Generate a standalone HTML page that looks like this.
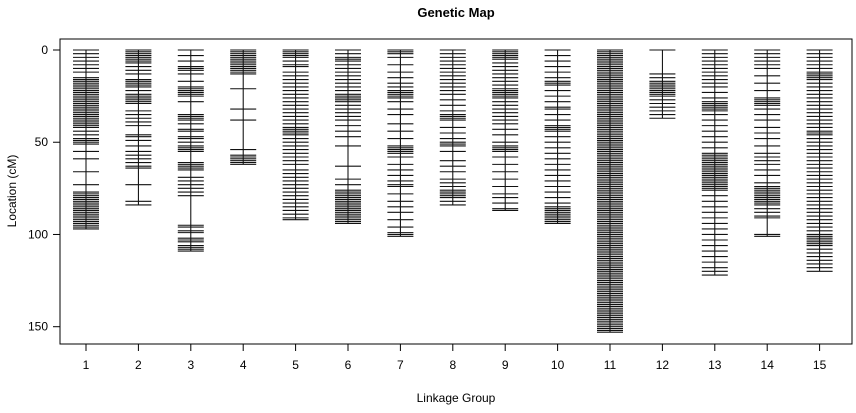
<!DOCTYPE html>
<html><head><meta charset="utf-8"><style>
body{margin:0;background:#fff}
svg text{font-family:"Liberation Sans",sans-serif;font-size:12px;fill:#000}
</style></head><body>
<svg id="c" width="856" height="408"></svg>
<script>
const groups=[1,2,3,4,5,6,7,8,9,10,11,12,13,14,15];
const yTicks=[0,50,100,150];
const m1=[0,2,4,6,8,10,12,15,16,17,18,19,20,21,22,23,24,25,26,27,28,29,30,31,32,33,34,35,36,37,38,39,40,41,42,44,46,48,49,50,51,55,59,66,73,77,78,79,80,81,82,83,84,85,86,87,88,89,90,91,92,93,94,95,96,97];
const m2=[0,1,2,3,4,5,6,7,9,11,13,16,17,18,19,20,22,24,25,26,27,28,29,33,35,37,39,41,46,47,49,52,55,57,59,61,63,64,73,82,84];
const m3=[0,3,6,9,10,11,13,17,20,21,22,23,24,25,28,35,36,37,38,40,43,44,47,48,50,52,53,54,55,61,62,63,64,65,69,71,73,75,77,79,95,96,98,99,102,103,104,106,107,108,109];
const m4=[0,1,2,3,4,5,6,7,8,9,10,11,12,13,21,32,38,54,57,58,59,60,61,62];
const m5=[0,1,2,3,4,6,8,9,12,14,16,18,20,22,24,26,28,30,32,34,36,38,40,42,43,44,45,46,48,50,52,54,56,58,60,62,65,67,69,71,73,75,77,79,81,83,85,87,89,91,92];
const m6=[0,2,4,5,6,8,10,12,14,16,18,20,22,24,25,26,27,28,30,32,34,36,38,41,44,47,52,63,70,73,76,77,78,79,80,81,82,83,84,85,86,87,88,89,90,91,92,93,94];
const m7=[0,1,2,4,8,12,15,18,20,22,23,24,25,26,28,32,35,40,44,48,52,53,54,55,56,58,62,65,68,71,73,74,78,82,85,88,92,96,99,100,101];
const m8=[0,2,4,6,8,10,12,14,16,18,20,22,24,27,30,33,35,36,37,38,42,45,48,50,51,52,55,60,63,66,70,72,74,76,77,78,79,80,82,84];
const m9=[0,1,2,3,4,5,7,9,11,13,15,17,19,21,22,23,24,25,26,28,30,32,34,36,38,40,43,46,50,52,53,54,55,58,62,66,70,74,78,80,83,86,87];
const m10=[0,3,6,9,12,15,17,18,19,22,25,28,31,32,35,38,41,42,43,44,47,50,53,56,59,62,65,68,71,74,77,80,83,85,86,87,88,89,90,91,92,93,94];
const m11=[0,1,2,3,4,5,6,7,8,9,10,11,12,13,14,15,16,17,18,19,20,21,22,23,24,25,26,27,28,29,30,31,32,33,34,35,36,37,38,39,40,41,42,43,44,45,46,47,48,49,50,51,52,53,54,55,56,57,58,59,60,61,62,63,64,65,66,67,68,69,70,71,72,73,74,75,76,77,78,79,80,81,82,83,84,85,86,87,88,89,90,91,92,93,94,95,96,97,98,99,100,101,102,103,104,105,106,107,108,109,110,111,112,113,114,115,116,117,118,119,120,121,122,123,124,125,126,127,128,129,130,131,132,133,134,135,136,137,138,139,140,141,142,143,144,145,146,147,148,149,150,151,152,153];
const m12=[0,13,15,17,18,19,20,21,22,23,24,25,27,29,31,33,35,37];
const m13=[0,2,4,6,8,10,12,14,16,18,20,23,26,28,29,30,31,32,33,35,38,41,44,47,50,53,56,57,58,59,60,61,62,63,64,65,66,67,68,69,70,71,72,73,74,75,76,79,82,85,88,91,94,97,100,103,106,109,112,115,118,120,122];
const m14=[0,2,4,6,8,10,14,18,22,26,27,28,29,30,32,35,38,42,45,48,52,56,58,60,62,65,68,72,74,75,76,77,78,79,80,81,82,83,84,86,88,90,91,100,101];
const m15=[0,2,4,6,8,10,12,13,14,15,16,18,20,22,24,26,28,30,32,34,36,38,40,42,44,45,46,48,50,52,54,56,58,60,62,64,66,68,70,72,74,76,78,80,82,84,86,88,90,92,94,96,98,100,101,102,103,104,105,106,108,110,112,114,116,118,120];
const markers=[m1,m2,m3,m4,m5,m6,m7,m8,m9,m10,m11,m12,m13,m14,m15];

const NS="http://www.w3.org/2000/svg",svg=document.getElementById('c');
const L=60,R=852,T=39,B=344;
const yS=v=>50+v*(326.7-50)/150;
const xS=g=>86+(g-1)*52.4;
function el(t,a,txt){const e=document.createElementNS(NS,t);for(const k in a)e.setAttribute(k,a[k]);if(txt!=null)e.textContent=txt;svg.appendChild(e);return e;}
let e;
e=el('rect',{x:L,y:T,width:R-L,height:B-T,fill:'none',stroke:'#000','stroke-width':1});


e=el('text',{x:456,y:17,'text-anchor':'middle','font-weight':'bold','style':'font-size:13px'},'Genetic Map');


e=el('text',{x:456,y:402,'text-anchor':'middle'},'Linkage Group');


e=el('text',{x:16,y:191,'text-anchor':'middle',transform:'rotate(-90 16 191)'},'Location (cM)');


yTicks.forEach(v=>{
  e=el('line',{x1:53,x2:L,y1:yS(v),y2:yS(v),stroke:'#000'});
  
  
  e=el('text',{x:48,y:yS(v)+4,'text-anchor':'end'},String(v));
  
  
});
groups.forEach((g,i)=>{
  const x=xS(g);
  e=el('line',{x1:x,x2:x,y1:B,y2:B+7,stroke:'#000'});
  
  
  e=el('text',{x:x,y:369,'text-anchor':'middle'},String(g));
  
  
  const ms=markers[i],mx=Math.max(...ms);
  e=el('line',{x1:x,x2:x,y1:yS(0),y2:yS(mx),stroke:'#000','stroke-width':1});
  
  
  ms.forEach(v=>{
    e=el('line',{x1:x-13,x2:x+13,y1:yS(v),y2:yS(v),stroke:'#111','stroke-width':1.1});
    
    
  });
});
</script>
</body></html>
